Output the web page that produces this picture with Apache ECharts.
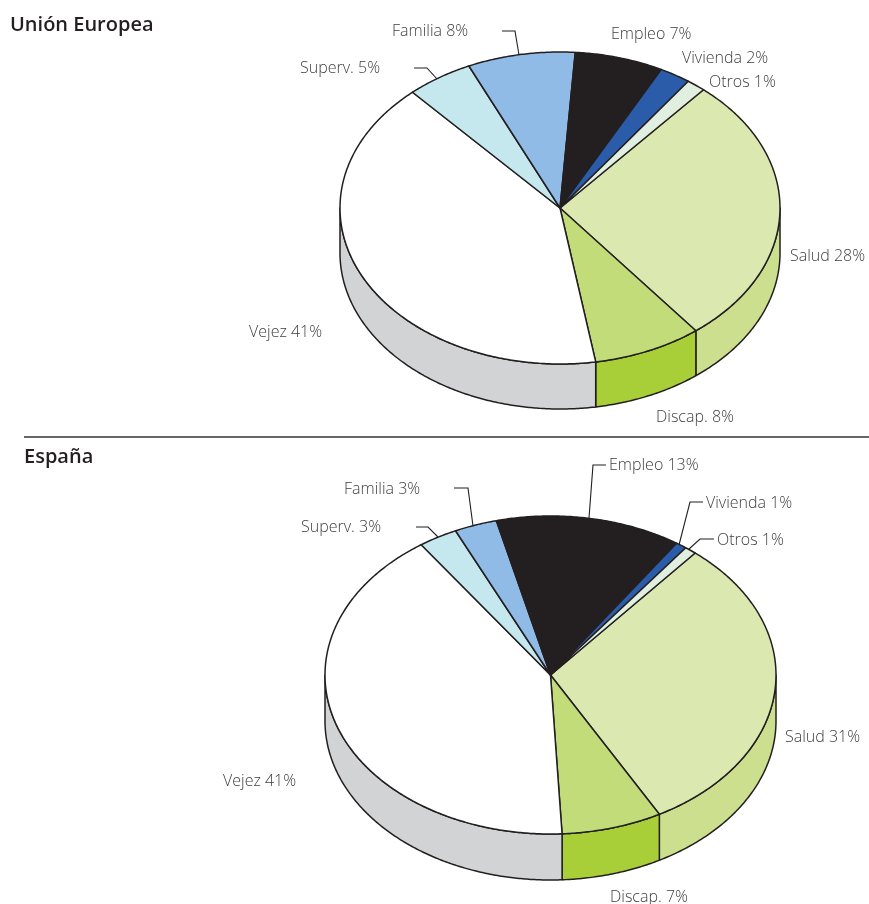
<!DOCTYPE html>
<html>
<head>
<meta charset="utf-8">
<style>html,body{margin:0;padding:0;background:#fff}#c{width:869px;height:904px}</style>
<script src="https://cdn.jsdelivr.net/npm/echarts@6/dist/echarts.min.js"></script>
</head>
<body>
<div id="c"></div>
<script>
// ---- data ----
const categories = ['Salud', 'Discap.', 'Vejez', 'Superv.', 'Familia', 'Empleo', 'Vivienda', 'Otros'];
const valuesUE = [28.1, 8, 40.9, 4.9, 7.9, 6.5, 2.3, 1.4];
const valuesES = [30.9, 7.2, 41.1, 2.8, 3.06, 13.3, 0.8, 0.84];
const titleUE = 'Unión Europea';
const titleES = 'España';

// ---- styles ----
const topColors = ['#dbe9b0', '#c2dc7a', '#ffffff', '#c5e8ef', '#90bbe6', '#231f20', '#2a5caa', '#e0efdf'];
const sideColors = ['#cbdf8e', '#a8cf38', '#d1d3d4', '#c5e8ef', '#90bbe6', '#231f20', '#2a5caa', '#e0efdf'];
const ink = '#231f20', textColor = '#3f3f41';
const labelFont = '"Open Sans"';

// ---- layout ----
const pieUE = { cx: 560, cy: 208, rx: 220, ry: 156, depth: 45, start: 40.7 };
const pieES = { cx: 550.5, cy: 675, rx: 225.5, ry: 159, depth: 46, start: 39.9 };
const labelPosUE = [[790,256],[656,417],[249,332],[300,68],[392,31],[611,34],[682,58],[709,82]];
const labelPosES = [[785,737],[610,897],[223,781],[301,527],[344,489],[609,465],[706,503],[717,540]];
const leadersUE = [[[414,68],[427,68],[437,79]], [[502,31],[515,31],[519,55]]];
const leadersES = [[[416,527],[428,527],[438,537]], [[454,488],[468,488],[473,526]],
  [[606,465],[593,465],[589,518]], [[703,502],[690,502],[679,545]], [[714,539],[700,539],[689,549]]];

function pt(p, a, dy) {
  const r = a * Math.PI / 180;
  return [p.cx + p.rx * Math.sin(r), p.cy - p.ry * Math.cos(r) + (dy || 0)];
}
function arc(p, a0, a1, dy) {
  const pts = [], n = Math.max(2, Math.ceil(Math.abs(a1 - a0) * 2));
  for (let i = 0; i <= n; i++) pts.push(pt(p, a0 + (a1 - a0) * i / n, dy));
  return pts;
}
function sweep(values, i, start) {
  const total = values.reduce((s, v) => s + v, 0);
  const before = values.slice(0, i).reduce((s, v) => s + v, 0);
  return [start + before / total * 360, start + (before + values[i]) / total * 360];
}
function pieSeries(values, p) {
  const data = values.map((v, i) => ({ name: categories[i], value: v }));
  const side = {
    type: 'custom', coordinateSystem: 'none', silent: true, animation: false, z: 2, data,
    renderItem(params) {
      const i = params.dataIndex, [a0, a1] = sweep(values, i, p.start);
      const b0 = Math.max(a0, 90), b1 = Math.min(a1, 270);
      if (b1 <= b0) return { type: 'group', children: [] };
      const pts = arc(p, b0, b1, 0).concat(arc(p, b1, b0, p.depth));
      return { type: 'polygon', shape: { points: pts },
        style: { fill: sideColors[i], stroke: ink, lineWidth: 1.5, lineJoin: 'round' } };
    }
  };
  const top = {
    type: 'custom', coordinateSystem: 'none', silent: true, animation: false, z: 3, data,
    renderItem(params) {
      const i = params.dataIndex, [a0, a1] = sweep(values, i, p.start);
      const pts = [[p.cx, p.cy]].concat(arc(p, a0, a1, 0));
      return { type: 'polygon', shape: { points: pts },
        style: { fill: topColors[i], stroke: ink, lineWidth: 1.5, lineJoin: 'round' } };
    }
  };
  return [side, top];
}
function labels(values, pos) {
  return values.map((v, i) => ({
    type: 'text', x: pos[i][0], y: pos[i][1], z: 10,
    style: { text: categories[i] + ' ' + Math.round(v) + '%', fill: textColor,
      font: '300 16px ' + labelFont, textAlign: 'left', textVerticalAlign: 'middle' }
  }));
}
function leaders(list) {
  return list.map(pts => ({ type: 'polyline', z: 10, shape: { points: pts },
    style: { fill: null, stroke: ink, lineWidth: 1.1 } }));
}
function heading(text, x, y) {
  return { type: 'text', x, y, z: 10, style: { text, fill: '#231f20',
    font: '600 20px ' + labelFont, textAlign: 'left', textVerticalAlign: 'middle' } };
}

const chart = echarts.init(document.getElementById('c'), null, { renderer: 'canvas' });
chart.setOption({
  backgroundColor: '#fff',
  animation: false,
  series: pieSeries(valuesUE, pieUE).concat(pieSeries(valuesES, pieES)),
  graphic: { elements: [
    heading(titleUE, 10, 25),
    heading(titleES, 24, 457),
    { type: 'line', z: 10, shape: { x1: 24, y1: 437, x2: 869, y2: 437 }, style: { stroke: '#666666', lineWidth: 2 } },
    ...labels(valuesUE, labelPosUE),
    ...labels(valuesES, labelPosES),
    ...leaders(leadersUE),
    ...leaders(leadersES)
  ] }
});
</script>
</body>
</html>
